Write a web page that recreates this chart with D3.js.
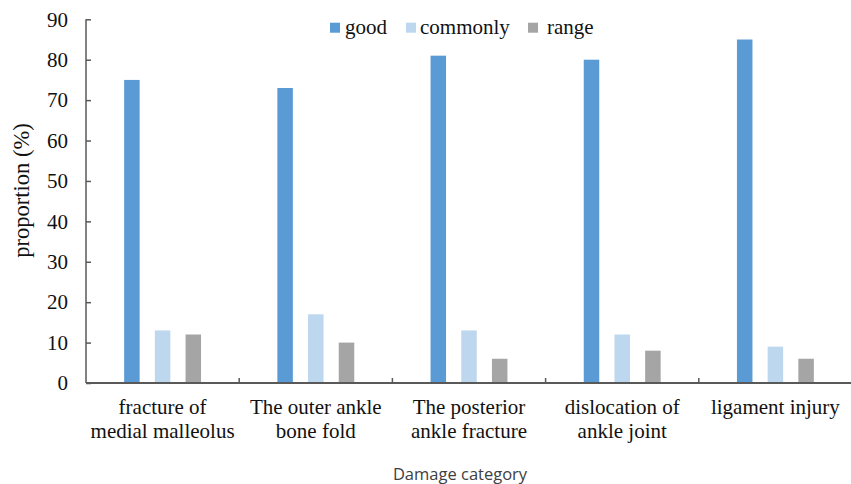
<!DOCTYPE html>
<html><head><meta charset="utf-8">
<script src="https://cdn.jsdelivr.net/npm/d3@7"></script>
<style>body{margin:0;background:#fff}svg{display:block}</style>
</head><body><svg id="c" width="851" height="484"></svg>
<script>
const categories = [["fracture of","medial malleolus"],["The outer ankle","bone fold"],["The posterior","ankle fracture"],["dislocation of","ankle joint"],["ligament injury"]];
const seriesNames = ["good","commonly","range"];
const good = [75,73,81,80,85];
const commonly = [13,17,13,12,9];
const range = [12,10,6,8,6];
const yTicks = [0,10,20,30,40,50,60,70,80,90];
const colors = ["#5B9BD5","#BDD7EE","#A5A5A5"];
const values = [good, commonly, range];

const svg = d3.select("#c");
const mLeft = 86, mRight = 852, mTop = 19.3, mBottom = 383;
const serif = "'Liberation Serif','Times New Roman',serif";
const axisColor = "#595959";
const groupW = 76.9;

const x0 = d3.scaleBand().domain(d3.range(categories.length)).range([mLeft, mRight]).paddingInner(0).paddingOuter(0);
const x1 = d3.scaleBand().domain(d3.range(seriesNames.length)).range([0, groupW]).paddingInner(0.495).paddingOuter(0);
const y = d3.scaleLinear().domain([0,90]).range([mBottom, mTop]);

// bars
const g = svg.append("g");
values.forEach((vals, si) => {
  g.selectAll(null).data(vals).enter().append("rect")
    .attr("x", (d,i) => x0(i) + x0.bandwidth()/2 - groupW/2 + x1(si))
    .attr("y", d => y(d))
    .attr("width", x1.bandwidth())
    .attr("height", d => mBottom - y(d))
    .attr("fill", colors[si]);
});

// y axis
const yAxis = d3.axisLeft(y).tickValues(yTicks).tickSize(-5).tickPadding(18);
const ya = svg.append("g").attr("transform", `translate(${mLeft},0)`).call(yAxis);
ya.select(".domain").attr("stroke", axisColor).attr("stroke-width", 1.5).attr("d", `M0,${mTop}V${mBottom}`);
ya.selectAll(".tick line").attr("stroke", axisColor).attr("stroke-width", 1.5);
ya.selectAll(".tick text").attr("font-family", serif).attr("font-size", 21).attr("fill", "#111");

// x axis
const xa = svg.append("g").attr("transform", `translate(0,${mBottom})`);
xa.append("line").attr("x1", mLeft).attr("x2", mRight).attr("stroke", axisColor).attr("stroke-width", 2);
xa.selectAll(null).data(d3.range(1, categories.length)).enter().append("line")
  .attr("x1", d => x0(d)).attr("x2", d => x0(d)).attr("y1", 0).attr("y2", -5)
  .attr("stroke", axisColor).attr("stroke-width", 1.5);

const lbl = svg.append("g");
categories.forEach((lines, i) => {
  const t = lbl.append("text").attr("text-anchor","middle").attr("font-family", serif).attr("font-size", 21).attr("fill","#111");
  lines.forEach((ln, k) => {
    t.append("tspan").attr("x", x0(i) + x0.bandwidth()/2).attr("y", 414 + k*23.5).text(ln);
  });
});

// axis titles
svg.append("text").attr("transform","translate(29,190.5) rotate(-90)").attr("text-anchor","middle")
  .attr("font-family", serif).attr("font-size", 22.5).attr("fill","#111").text("proportion (%)");
svg.append("text").attr("x", 460).attr("y", 480).attr("text-anchor","middle")
  .attr("font-family", "'Open Sans',sans-serif").attr("font-size", 16.5).attr("fill","#404040").text("Damage category");

// legend
const legX = [330, 406, 528];
const legTX = [345, 420, 547];
seriesNames.forEach((n, i) => {
  svg.append("rect").attr("x", legX[i]).attr("y", 22.7).attr("width", 10).attr("height", 10).attr("fill", colors[i]);
  svg.append("text").attr("x", legTX[i]).attr("y", 33.5).attr("font-family", serif).attr("font-size", 21).attr("fill","#111").text(n);
});
</script></body></html>
